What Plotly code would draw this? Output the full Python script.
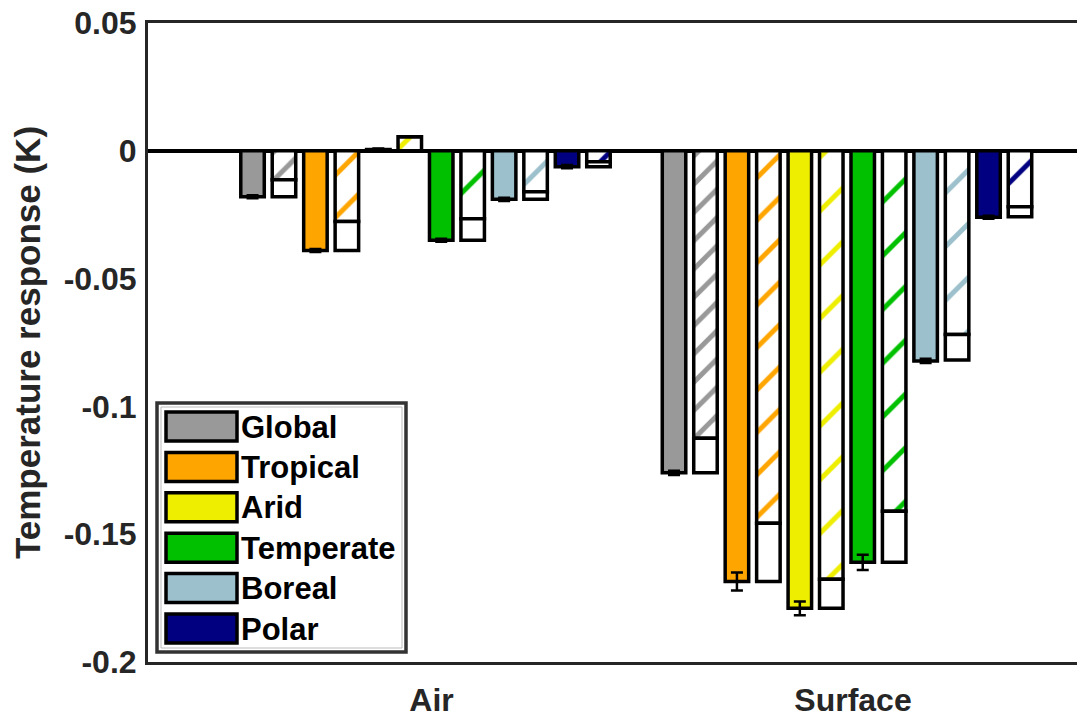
import plotly.graph_objects as go

# ---------------- data ----------------
groups = ["Air", "Surface"]
zones = ["Global", "Tropical", "Arid", "Temperate", "Boreal", "Polar"]

# solid bars (mean response) and their error
mean_air = [-0.018, -0.039, 0.0005, -0.035, -0.019, -0.0062]
mean_surface = [-0.126, -0.1685, -0.179, -0.161, -0.0822, -0.026]
err_air = [0.0006, 0.0006, 0.0004, 0.0006, 0.0006, 0.0006]
err_surface = [0.0008, 0.0035, 0.0027, 0.003, 0.0008, 0.0006]

# hatched bars: full length and hatched component
htotal_air = [-0.018, -0.039, 0.0055, -0.035, -0.019, -0.0062]
htotal_surface = [-0.126, -0.1685, -0.179, -0.161, -0.0818, -0.0258]
hpart_air = [-0.0113, -0.0277, 0.0055, -0.0266, -0.016, -0.0043]
hpart_surface = [-0.1125, -0.1457, -0.1676, -0.141, -0.0719, -0.0219]

ytick_vals = [0.05, 0, -0.05, -0.1, -0.15, -0.2]
ytick_text = ["0.05", "0", "-0.05", "-0.1", "-0.15", "-0.2"]

# ---------------- style ----------------
colors = ["#999999", "#FFA500", "#EEEE00", "#00C000", "#9CC0CC", "#000080"]
hatch_size = [20, 30, 38, 38, 38, 38]

OFS = 8                          # page body margin of the html page
W, H = 1085 - OFS, 717 - OFS
L, T, B = 148 - OFS, 23 - OFS, 662 - OFS   # plot area in figure pixels
PX_PER_CAT = 421.5
SLOT = 31.45 / PX_PER_CAT
BW = 23.5 / PX_PER_CAT
x_lo = -(425.5 - OFS - L) / PX_PER_CAT
x_hi = 1 + (W - (847 - OFS)) / PX_PER_CAT

FONT = "Liberation Sans"
TXT = "#262626"

fig = go.Figure()

for z, name in enumerate(zones):
    off_solid = (2 * z - 5.5) * SLOT - BW / 2
    off_hatch = (2 * z + 1 - 5.5) * SLOT - BW / 2
    # solid bar
    fig.add_trace(go.Bar(
        x=groups, y=[mean_air[z], mean_surface[z]],
        offset=off_solid, width=BW, name=name, showlegend=False,
        marker=dict(color=colors[z], line=dict(color="black", width=3.5)),
        error_y=dict(type="data", array=[err_air[z], err_surface[z]],
                     color="black", thickness=2.5, width=6),
    ))
    # hatched component
    fig.add_trace(go.Bar(
        x=groups, y=[hpart_air[z], hpart_surface[z]],
        offset=off_hatch, width=BW, showlegend=False,
        marker=dict(color="white", line=dict(color="black", width=3.5),
                    pattern=dict(shape="/", fgcolor=colors[z], bgcolor="white",
                                 fillmode="replace", size=hatch_size[z],
                                 solidity=5.0 / hatch_size[z])),
    ))
    # white remainder
    fig.add_trace(go.Bar(
        x=groups,
        y=[htotal_air[z] - hpart_air[z], htotal_surface[z] - hpart_surface[z]],
        base=[hpart_air[z], hpart_surface[z]],
        offset=off_hatch, width=BW, showlegend=False,
        marker=dict(color="white", line=dict(color="black", width=3.5)),
    ))

# ---------------- custom legend (paper coordinates from window pixels) -------
pw = W - L
ph = B - T


def px(xp):
    return (xp - OFS - L) / pw


def py(yp):
    return 1 - (yp - OFS - T) / ph


shapes = [
    dict(type="rect", xref="paper", yref="paper", x0=px(157), x1=px(406),
         y0=py(652), y1=py(403), line=dict(color="#333333", width=3.5),
         fillcolor="white", layer="above"),
    dict(type="rect", xref="paper", yref="paper", x0=px(161), x1=px(402),
         y0=py(648), y1=py(407), line=dict(color="#BBBBBB", width=1),
         layer="above"),
]
annotations = []
for i, name in enumerate(zones):
    top = 411 + 40.4 * i
    shapes.append(dict(type="rect", xref="paper", yref="paper",
                       x0=px(166), x1=px(237), y0=py(top + 30), y1=py(top + 1),
                       fillcolor=colors[i], line=dict(color="black", width=3.5),
                       layer="above"))
    annotations.append(dict(xref="paper", yref="paper", x=px(239), y=py(top + 16),
                            text=name, showarrow=False, xanchor="left",
                            yanchor="middle",
                            font=dict(family=FONT, size=31, color="black",
                                      weight="bold")))

fig.update_layout(
    width=W, height=H,
    margin=dict(l=L, r=0, t=T, b=H - B, pad=0),
    paper_bgcolor="white", plot_bgcolor="white",
    barmode="overlay",
    showlegend=False,
    shapes=shapes, annotations=annotations,
    font=dict(family=FONT, color=TXT, weight="bold"),
    xaxis=dict(type="category", range=[x_lo, x_hi], showgrid=False,
               automargin=False,
               showline=True, linecolor=TXT, linewidth=3, mirror=True,
               ticks="", ticklabelshift=6, ticklabelstandoff=8,
               tickfont=dict(family=FONT, size=32, color=TXT, weight="bold")),
    yaxis=dict(range=[-0.2, 0.05], showgrid=False, showline=True,
               automargin=False, ticklabeloverflow="allow",
               linecolor=TXT, linewidth=3, mirror=False, ticks="",
               tickvals=ytick_vals, ticktext=ytick_text,
               ticklabelstandoff=2,
               zeroline=True, zerolinecolor="black", zerolinewidth=3.5,
               tickfont=dict(family=FONT, size=32, color=TXT, weight="bold"),
               title=dict(text="Temperature response (K)", standoff=22,
                          font=dict(family=FONT, size=35, color=TXT,
                                    weight="bold"))),
)

fig.write_html("out.html")
